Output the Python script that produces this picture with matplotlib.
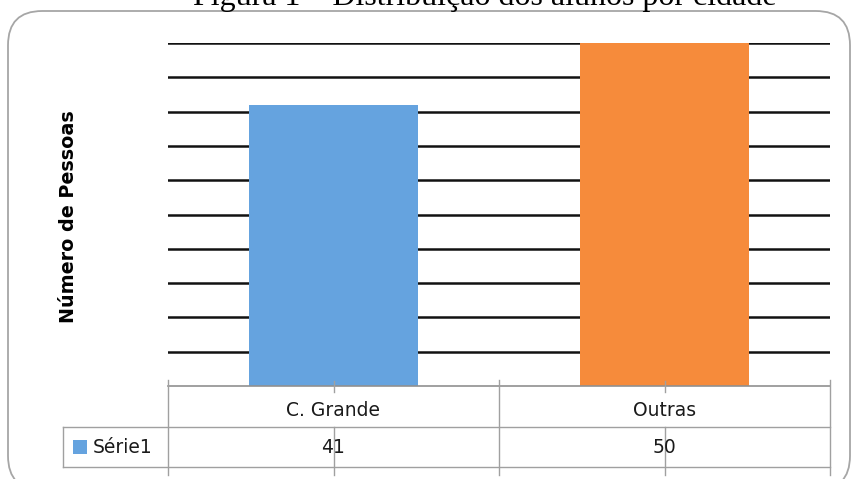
import matplotlib
matplotlib.use("Agg")
import matplotlib.pyplot as plt
from matplotlib.patches import FancyBboxPatch, Rectangle
from matplotlib.lines import Line2D

categories = ["C. Grande", "Outras"]
values = [41, 50]
series_name = "Série1"
colors = ["#65A3DF", "#F68B3B"]
title = "Figura 1 – Distribuição dos alunos por cidade"
ylabel = "Número de Pessoas"

W, H = 855, 479
fig = plt.figure(figsize=(W / 100, H / 100), dpi=100)


def fx(px):
    return px / W


def fy(py):
    return 1 - py / H


# outer rounded frame
frame = FancyBboxPatch((fx(8), fy(490)), fx(842), fy(11) - fy(490),
                       boxstyle="round,pad=0,rounding_size=0.04",
                       transform=fig.transFigure, facecolor="none",
                       edgecolor="#A6A6A6", linewidth=1.3, zorder=0,
                       mutation_aspect=W / H)
fig.patches.append(frame)

fig.text(fx(485), fy(4.5), title, family="Liberation Serif", fontsize=23,
         ha="center", va="baseline")

left, right, top, bottom = 168, 830, 43, 386
ax = fig.add_axes([fx(left), fy(bottom), fx(right) - fx(left), fy(top) - fy(bottom)])
ax.set_xlim(-0.5, len(categories) - 0.5)
ax.set_ylim(0, 50)
ax.set_yticks(range(5, 55, 5))
ax.yaxis.grid(True, color="#111111", linewidth=1.8)
ax.set_axisbelow(True)
ax.bar(range(len(categories)), values, width=0.51, color=colors, zorder=2)
ax.set_xticks([])
ax.tick_params(axis="y", length=0, labelleft=False)
for s in ["top", "right", "left"]:
    ax.spines[s].set_visible(False)
ax.spines["bottom"].set_color("#909090")
ax.spines["bottom"].set_linewidth(1.2)

fig.text(fx(69), fy(217), ylabel, rotation=90, fontsize=13.8, fontweight="bold",
         family="DejaVu Sans", ha="center", va="center")

# data table
line_kw = dict(color="#A0A0A0", linewidth=1.0, transform=fig.transFigure)
col_w = (right - left) / len(categories)
row1, row2 = 427, 467
tleft = 63
fig.lines.append(Line2D([fx(tleft), fx(right)], [fy(row1), fy(row1)], **line_kw))
fig.lines.append(Line2D([fx(tleft), fx(right)], [fy(row2), fy(row2)], **line_kw))
fig.lines.append(Line2D([fx(tleft), fx(tleft)], [fy(row1), fy(row2)], **line_kw))
for i in range(len(categories) + 1):
    x = left + i * col_w
    fig.lines.append(Line2D([fx(x), fx(x)], [fy(380), fy(475)], **line_kw))
for i, (cat, val) in enumerate(zip(categories, values)):
    xc = left + (i + 0.5) * col_w
    fig.lines.append(Line2D([fx(xc), fx(xc)], [fy(381), fy(392)], **line_kw))
    fig.lines.append(Line2D([fx(xc), fx(xc)], [fy(row1), fy(475)], **line_kw))
    fig.text(fx(xc), fy(411), cat, fontsize=13.5, family="DejaVu Sans", ha="center",
             va="center", color="#1A1A1A")
    fig.text(fx(xc), fy(447.5), str(val), fontsize=13.5, family="DejaVu Sans",
             ha="center", va="center", color="#1A1A1A")

fig.patches.append(Rectangle((fx(73), fy(454)), fx(14), fy(440) - fy(454),
                             transform=fig.transFigure, facecolor=colors[0],
                             edgecolor="none"))
fig.text(fx(93), fy(447.5), series_name, fontsize=13.5, family="DejaVu Sans",
         ha="left", va="center", color="#1A1A1A")

fig.savefig("out.png", dpi=100)
